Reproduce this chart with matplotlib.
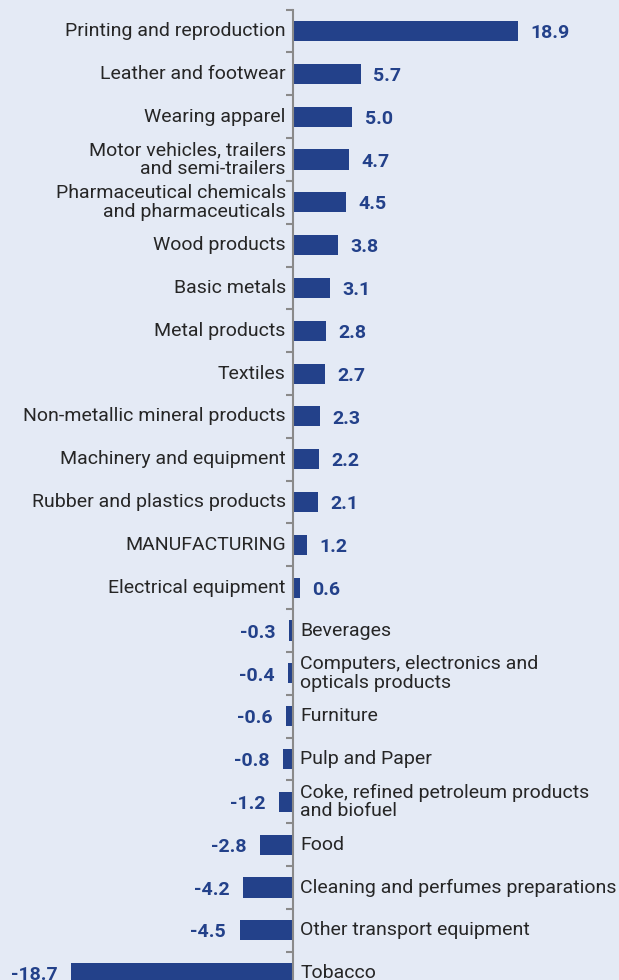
import matplotlib.pyplot as plt

categories = [
    "Printing and reproduction",
    "Leather and footwear",
    "Wearing apparel",
    "Motor vehicles, trailers\nand semi-trailers",
    "Pharmaceutical chemicals\nand pharmaceuticals",
    "Wood products",
    "Basic metals",
    "Metal products",
    "Textiles",
    "Non-metallic mineral products",
    "Machinery and equipment",
    "Rubber and plastics products",
    "MANUFACTURING",
    "Electrical equipment",
    "Beverages",
    "Computers, electronics and\nopticals products",
    "Furniture",
    "Pulp and Paper",
    "Coke, refined petroleum products\nand biofuel",
    "Food",
    "Cleaning and perfumes preparations",
    "Other transport equipment",
    "Tobacco",
]
values = [18.9, 5.7, 5.0, 4.7, 4.5, 3.8, 3.1, 2.8, 2.7, 2.3, 2.2, 2.1, 1.2, 0.6,
          -0.3, -0.4, -0.6, -0.8, -1.2, -2.8, -4.2, -4.5, -18.7]

bg = "#e4eaf5"
bar_color = "#23418a"
axis_color = "#8a8a8a"

plt.rcParams['font.family'] = ['Roboto', 'DejaVu Sans']

fig = plt.figure(figsize=(6.19, 9.8), dpi=100, facecolor=bg)
ax = fig.add_axes([0, 0, 1, 1], facecolor=bg)

pos = list(range(len(values)))
ax.barh(pos, values, height=0.47, color=bar_color, zorder=2)

for i, (cat, v) in enumerate(zip(categories, values)):
    if v >= 0:
        ax.text(-0.6, i, cat, ha='right', va='center', fontsize=14, color='#262626',
                linespacing=1.05)
        ax.text(v + 1.04, i + 0.05, f"{v:.1f}", ha='left', va='center', fontsize=14,
                fontweight='bold', color=bar_color)
    else:
        ax.text(0.6, i, cat, ha='left', va='center', fontsize=14, color='#262626',
                linespacing=1.05)
        ax.text(v - 1.15, i + 0.05, f"{v:.1f}", ha='right', va='center', fontsize=14,
                fontweight='bold', color=bar_color)

# zero axis with ticks between categories
for s in ['top', 'right', 'bottom']:
    ax.spines[s].set_visible(False)
ax.spines['left'].set_position(('data', 0))
ax.spines['left'].set_bounds(-0.5, 23)
ax.spines['left'].set_color(axis_color)
ax.spines['left'].set_linewidth(1.5)
ax.spines['left'].set_zorder(3)
ax.set_yticks([i - 0.5 for i in range(len(values) + 1)])
ax.set_yticklabels([])
ax.tick_params(axis='y', direction='out', length=5, width=1.5, color=axis_color)
ax.set_xticks([])

# limits last, so the ticks do not widen them
ax.set_xlim(-24.66, 27.44)
ax.set_ylim(22.16, -0.724)

fig.savefig("out.png", dpi=100, facecolor=bg)
